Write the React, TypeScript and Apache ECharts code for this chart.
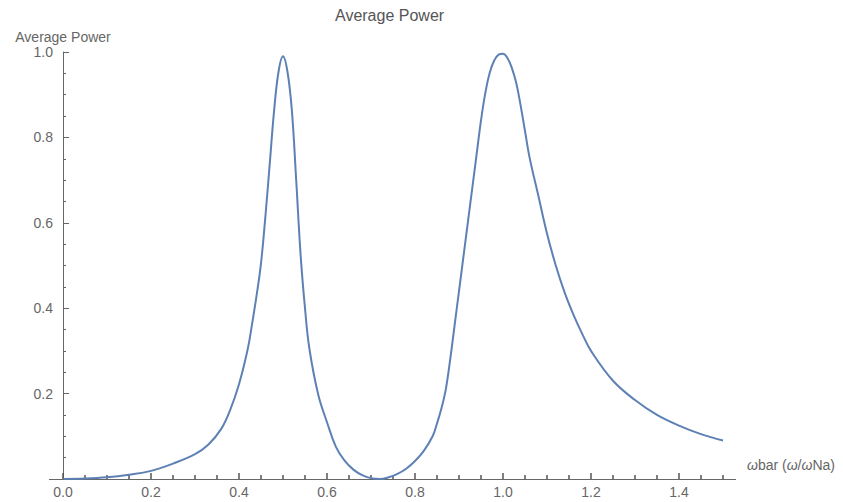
import React, { useEffect, useRef } from "react";
import * as echarts from "echarts";

// Frequency ratio (ωbar)
const omegaBar = [
  0.0, 0.05, 0.1, 0.15, 0.2, 0.25, 0.3, 0.33, 0.36, 0.38, 0.4, 0.42, 0.43, 0.44, 0.45, 0.46,
  0.47, 0.48, 0.49, 0.5, 0.51, 0.52, 0.53, 0.54, 0.55, 0.56, 0.58, 0.6, 0.62, 0.64, 0.66, 0.68,
  0.7, 0.72, 0.74, 0.76, 0.78, 0.8, 0.82, 0.84, 0.85, 0.86, 0.87, 0.88, 0.89, 0.9, 0.91, 0.92,
  0.93, 0.94, 0.95, 0.96, 0.97, 0.98, 0.99, 1.0, 1.01, 1.02, 1.03, 1.04, 1.05, 1.06, 1.08, 1.1,
  1.12, 1.14, 1.16, 1.18, 1.2, 1.25, 1.3, 1.35, 1.4, 1.45, 1.5,
];
// Average power values
const avgPower = [
  0.0, 0.001, 0.004, 0.01, 0.019, 0.036, 0.058, 0.08, 0.118, 0.162, 0.222, 0.305, 0.365, 0.43,
  0.505, 0.615, 0.74, 0.865, 0.955, 0.99, 0.955, 0.865, 0.7, 0.525, 0.4, 0.305, 0.198, 0.133,
  0.076, 0.043, 0.022, 0.009, 0.002, 0.0, 0.004, 0.012, 0.024, 0.042, 0.066, 0.1, 0.13, 0.165,
  0.21, 0.28, 0.36, 0.44, 0.52, 0.6, 0.68, 0.76, 0.84, 0.905, 0.952, 0.98, 0.994, 0.996, 0.986,
  0.963, 0.928, 0.875, 0.815, 0.755, 0.665, 0.575, 0.5, 0.437, 0.385, 0.34, 0.3, 0.23, 0.185,
  0.15, 0.125, 0.105, 0.09,
];

const FONT = "'Liberation Sans', Arial, Helvetica, sans-serif";
const AXIS_COLOR = "#666";
const TEXT_COLOR = "#666";

export default function App() {
  const ref = useRef<HTMLDivElement>(null);

  useEffect(() => {
    document.body.style.margin = "0";
    if (!ref.current) return;
    const chart = echarts.init(ref.current, undefined, { renderer: "svg" });
    const data = omegaBar.map((x, i) => [x, avgPower[i]]);

    chart.setOption({
      animation: false,
      backgroundColor: "#fff",
      title: {
        text: "Average Power",
        left: 330,
        top: 2,
        textStyle: { fontSize: 16, fontWeight: "normal", color: "#555", fontFamily: FONT },
      },
      grid: { left: 63, right: 76, top: 52, bottom: 23, containLabel: false },
      xAxis: {
        type: "value",
        min: 0,
        max: 1.6,
        interval: 0.2,
        axisLine: { show: true, onZero: true, lineStyle: { color: AXIS_COLOR, width: 1 } },
        axisTick: { show: true, inside: true, length: 6, lineStyle: { color: "#555", width: 1.5 } },
        minorTick: { show: true, splitNumber: 4, length: 4, lineStyle: { color: "#555", width: 1.5 } },
        axisLabel: {
          show: true,
          showMaxLabel: false,
          formatter: (v: number) => v.toFixed(1),
          margin: 6,
          fontSize: 14,
          color: TEXT_COLOR,
          fontFamily: FONT,
        },
        splitLine: { show: false },
        minorSplitLine: { show: false },
      },
      yAxis: {
        type: "value",
        min: 0,
        max: 1,
        interval: 0.2,
        name: "Average Power",
        nameLocation: "end",
        nameGap: 8,
        nameTextStyle: { fontSize: 14, color: TEXT_COLOR, fontFamily: FONT },
        axisLine: { show: true, onZero: true, lineStyle: { color: AXIS_COLOR, width: 1 } },
        axisTick: { show: true, inside: true, length: 6, lineStyle: { color: AXIS_COLOR, width: 1 } },
        minorTick: { show: true, splitNumber: 4, length: 3, lineStyle: { color: AXIS_COLOR, width: 1 } },
        axisLabel: {
          formatter: (v: number) => (v === 0 ? "" : v.toFixed(1)),
          margin: 10,
          fontSize: 14,
          color: TEXT_COLOR,
          fontFamily: FONT,
        },
        splitLine: { show: false },
        minorSplitLine: { show: false },
      },
      graphic: [
        // short stub of the horizontal axis left of the origin
        {
          type: "line",
          z: 100,
          shape: { x1: 49, y1: 479.5, x2: 64, y2: 479.5 },
          style: { stroke: AXIS_COLOR, lineWidth: 1 },
        },
        // the axis stops just past 1.5
        {
          type: "rect",
          z: 100,
          shape: { x: 736, y: 469, width: 40, height: 16 },
          style: { fill: "#fff" },
        },
        {
          type: "text",
          z: 101,
          left: 747,
          top: 458,
          style: {
            text: "{i|ω}bar ({i|ω}/{i|ω}Na)",
            fontSize: 14,
            fill: TEXT_COLOR,
            fontFamily: FONT,
            rich: {
              i: { fontStyle: "italic", fontSize: 14, fill: TEXT_COLOR, fontFamily: FONT },
            },
          },
        },
      ],
      series: [
        {
          type: "line",
          data,
          smooth: 0.4,
          showSymbol: false,
          symbol: "none",
          lineStyle: { color: "#5e81b5", width: 2 },
          clip: false,
        },
      ],
    });
    return () => chart.dispose();
  }, []);

  return <div ref={ref} style={{ width: 843, height: 502 }} />;
}
